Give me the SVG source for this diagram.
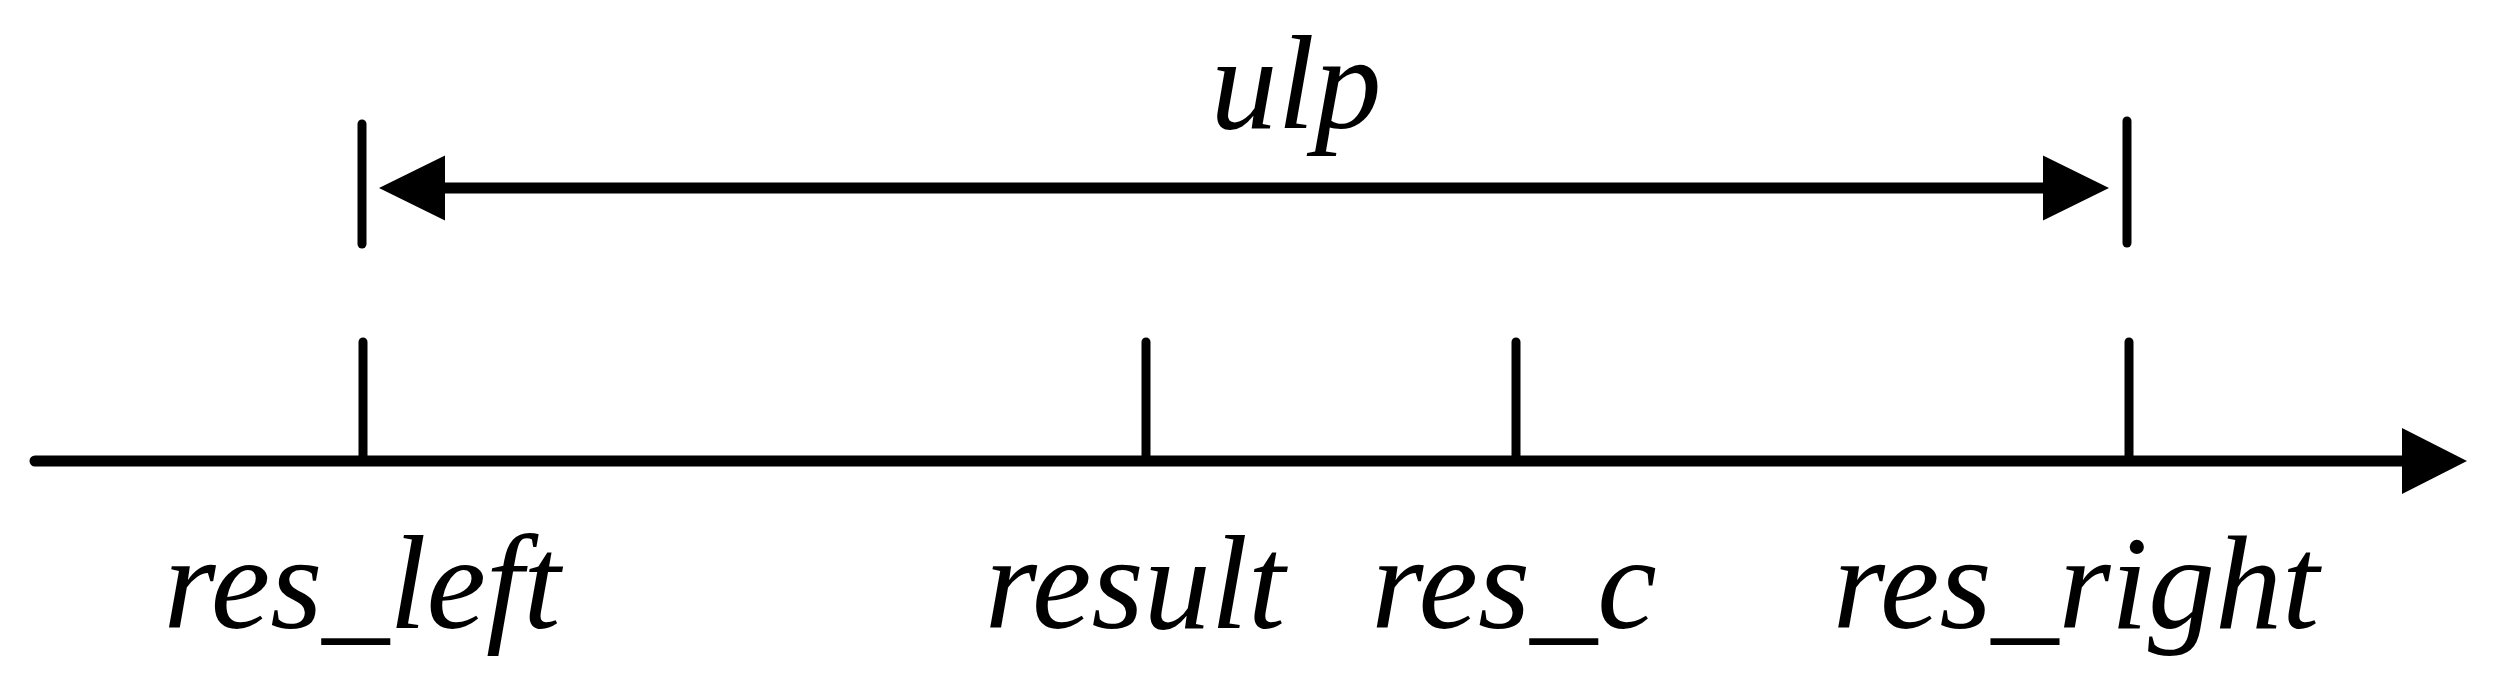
<svg xmlns="http://www.w3.org/2000/svg" width="2495" height="690" viewBox="0 0 2495 690">
<style>
.ln{stroke:#000;fill:none;stroke-linecap:round}
.ax{stroke-width:11}
.tk{stroke-width:9}
.lbl{font-family:"Liberation Serif","Times New Roman",serif;font-style:italic;font-size:134px;fill:#000;text-anchor:middle}
</style>
<rect width="2495" height="690" fill="#fff"/>
<g id="connectors">
<line class="ln ax" x1="35" y1="461" x2="2420" y2="461"/>
<path d="M2402,428 L2467,461 L2402,494 Z" fill="#000"/>
<line x1="420" y1="188" x2="2070" y2="188" stroke="#000" stroke-width="11"/>
<path d="M445,155.5 L379,188 L445,220.5 Z" fill="#000"/>
<path d="M2043,155.5 L2109,188 L2043,220.5 Z" fill="#000"/>
<line class="ln tk" x1="362" y1="124" x2="362" y2="244"/>
<line class="ln tk" x1="2127" y1="121" x2="2127" y2="243"/>
</g>
<g id="tick-res_left">
<line class="ln tk" x1="363" y1="342" x2="363" y2="461"/>
<text class="lbl" x="362" y="628">res_left</text>
</g>
<g id="tick-result">
<line class="ln tk" x1="1146" y1="342" x2="1146" y2="461"/>
<text class="lbl" x="1135" y="628">result</text>
</g>
<g id="tick-res_c">
<line class="ln tk" x1="1516" y1="342" x2="1516" y2="461"/>
<text class="lbl" x="1514" y="628">res_c</text>
</g>
<g id="tick-res_right">
<line class="ln tk" x1="2129" y1="342" x2="2129" y2="461"/>
<text class="lbl" x="2076" y="628">res_right</text>
</g>
<g id="label-ulp">
<text class="lbl" x="1296" y="128">ulp</text>
</g>
</svg>
